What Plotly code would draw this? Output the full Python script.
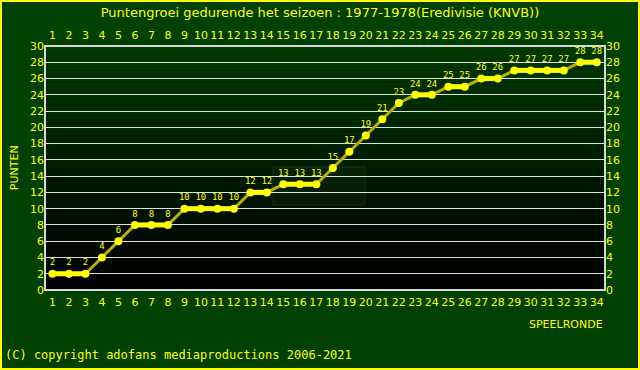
import plotly.graph_objects as go

rounds = list(range(1, 35))
points = [2, 2, 2, 4, 6, 8, 8, 8, 10, 10, 10, 10, 12, 12, 13, 13, 13, 15, 17, 19,
          21, 23, 24, 24, 25, 25, 26, 26, 27, 27, 27, 27, 28, 28]
y_ticks = list(range(0, 31, 2))

YEL = "#ffff00"
BG = "#004000"
FRAME = "#d8d8d8"

W, H = 640, 370
ML, MR, MT, MB = 45, 35, 46, 80
PW, PH = W - ML - MR, H - MT - MB

fig = go.Figure()

# gradient plot background via stacked rectangles
n = 60
shapes = []
for i in range(n):
    t = i / (n - 1)
    g = int(0x3a * t)
    shapes.append(dict(type="rect", xref="x domain", yref="y domain",
                       x0=0, x1=1, y0=i / n, y1=(i + 1) / n,
                       fillcolor=f"rgb(0,{g},0)", line=dict(width=0), layer="below"))
# faint watermark box (logo)
shapes.append(dict(type="rect", xref="paper", yref="paper",
                   x0=(273 - ML) / PW, x1=(365 - ML) / PW,
                   y0=(MT + PH - 205) / PH, y1=(MT + PH - 167) / PH,
                   fillcolor="rgba(90,110,90,0.08)",
                   line=dict(color="rgba(90,110,90,0.25)", width=1), layer="below"))
# plot frame
shapes.append(dict(type="rect", xref="x domain", yref="y domain", x0=0, x1=1, y0=0, y1=1,
                   line=dict(color=FRAME, width=2), layer="above"))
# outer border around whole image
shapes.append(dict(type="rect", xref="paper", yref="paper",
                   x0=(-ML + 1) / PW, x1=1 + (MR - 1) / PW,
                   y0=(-MB + 1) / PH, y1=1 + (MT - 1) / PH,
                   line=dict(color=YEL, width=2), layer="above"))

# full line (rising parts in olive)
fig.add_trace(go.Scatter(x=rounds, y=points, mode="lines",
                         line=dict(color="#b8b000", width=3), hoverinfo="skip"))
# flat segments bright yellow
fx, fy = [], []
for i in range(len(points) - 1):
    if points[i] == points[i + 1]:
        fx += [rounds[i], rounds[i + 1], None]
        fy += [points[i], points[i + 1], None]
fig.add_trace(go.Scatter(x=fx, y=fy, mode="lines",
                         line=dict(color=YEL, width=5), hoverinfo="skip"))
fig.add_trace(go.Scatter(x=rounds, y=points, mode="markers+text",
                         marker=dict(color=YEL, size=8),
                         text=[str(p) for p in points], textposition="top center",
                         textfont=dict(color=YEL, size=9, family="DejaVu Sans Mono")))
# invisible trace for top axis
fig.add_trace(go.Scatter(x=rounds, y=points, xaxis="x2", yaxis="y2", mode="markers",
                         marker=dict(opacity=0), hoverinfo="skip"))

axfont = dict(color=YEL, size=11, family="DejaVu Sans")
fig.update_layout(
    width=W, height=H,
    paper_bgcolor=BG, plot_bgcolor="#000000",
    showlegend=False,
    margin=dict(l=ML, r=MR, t=MT, b=MB, autoexpand=False),
    title=dict(text="Puntengroei gedurende het seizoen : 1977-1978(Eredivisie (KNVB))",
               x=0.5, xanchor="center", y=0.967, yanchor="middle",
               font=dict(color=YEL, size=13, family="DejaVu Sans")),
    xaxis=dict(range=[0.55, 34.5], tickvals=rounds, ticktext=[str(r) for r in rounds],
               showgrid=False, zeroline=False, showline=False,
               tickfont=axfont, ticks="", ticklen=0, ticklabelstandoff=4),
    xaxis2=dict(range=[0.55, 34.5], tickvals=rounds, overlaying="x", side="top",
                showgrid=False, zeroline=False, showline=False, tickfont=axfont, ticks="",
                ticklabelstandoff=4),
    yaxis=dict(range=[0, 30], tickvals=y_ticks, showgrid=True, gridcolor="#e0e0e0",
               gridwidth=1, zeroline=False, showline=False, tickfont=axfont, ticks=""),
    yaxis2=dict(range=[0, 30], tickvals=y_ticks, overlaying="y", side="right",
                showgrid=False, zeroline=False, showline=False, tickfont=axfont, ticks=""),
    shapes=shapes,
    annotations=[
        dict(text="PUNTEN", xref="paper", yref="paper", x=-0.055, y=0.5,
             textangle=-90, showarrow=False, font=dict(color=YEL, size=11, family="DejaVu Sans"),
             xanchor="center", yanchor="middle"),
        dict(text="SPEELRONDE", xref="paper", yref="paper", x=1.0, y=-0.14,
             showarrow=False, font=dict(color=YEL, size=11, family="DejaVu Sans"),
             xanchor="right", yanchor="middle"),
        dict(text="(C) copyright adofans mediaproductions 2006-2021", xref="paper", yref="paper",
             x=-0.075, y=-0.265, showarrow=False, xanchor="left", yanchor="middle",
             font=dict(color=YEL, size=12, family="DejaVu Sans Mono")),
    ],
)
fig.write_html("out.html", config={"displayModeBar": False},
               post_script="document.body.style.margin='0';document.body.style.overflow='hidden';")
